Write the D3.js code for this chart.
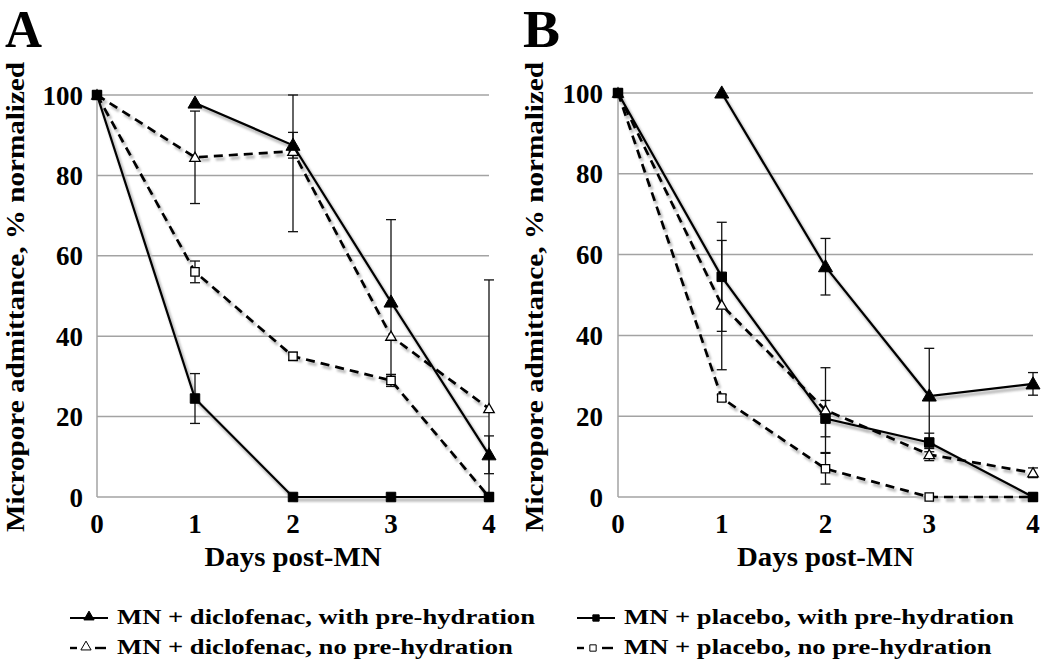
<!DOCTYPE html>
<html><head><meta charset="utf-8">
<script src="https://cdn.jsdelivr.net/npm/d3@7"></script>
<style>
body{margin:0;background:#fff}
text{font-family:"Liberation Serif","Times New Roman",serif;font-weight:bold;fill:#000}
</style>
</head><body>
<svg id="c" width="1050" height="663"></svg>
<script>
// ---------- data ----------
const days = [0, 1, 2, 3, 4];
const yTicks = [0, 20, 40, 60, 80, 100];
const panelLetters = ["A", "B"];
const xTitle = "Days post-MN";
const yTitle = "Micropore admittance, % normalized";
const seriesNames = [
  "MN + diclofenac, with pre-hydration",
  "MN + diclofenac, no pre-hydration",
  "MN + placebo, with pre-hydration",
  "MN + placebo, no pre-hydration"
];
// Panel A
const aDicloWith     = [null, 98, 87.5, 48.5, 10.5];
const aDicloWithErr  = [0, 0, 3.2, 20.5, 4.7];
const aDicloNo       = [100, 84.5, 86, 40, 22];
const aDicloNoErr    = [0, 11.5, 20, 0, 32];
const aPlaceboWith   = [100, 24.5, 0, 0, 0];
const aPlaceboWithErr= [0, 6.2, 0, 0, 0];
const aPlaceboNo     = [100, 56, 35, 29, 0];
const aPlaceboNoErr  = [0, 2.7, 1, 1.5, 0];
// Panel B
const bDicloWith     = [null, 100, 57, 25, 28];
const bDicloWithErr  = [0, 0, 7, 11.8, 2.8];
const bDicloNo       = [100, 47.5, 21.5, 10.5, 6];
const bDicloNoErr    = [0, 16, 10.5, 1.5, 1.2];
const bPlaceboWith   = [100, 54.5, 19.4, 13.5, 0];
const bPlaceboWithErr= [0, 13.5, 4.5, 2.3, 0];
const bPlaceboNo     = [100, 24.5, 7, 0, 0];
const bPlaceboNoErr  = [0, 0.8, 3.8, 0, 0];

// ---------- styles per series ----------
const styles = [
  {dash: null,  marker: "tri", fill: "#000", size: 85},
  {dash: "9,6", marker: "tri", fill: "#fff", size: 48},
  {dash: null,  marker: "sq",  fill: "#000", size: 90},
  {dash: "9,6", marker: "sq",  fill: "#fff", size: 70}
];
const markerOrder = [3, 1, 0, 2];

const panels = [
  {letter: panelLetters[0], x0: 97, x1: 489, y0: 497, y1: 95, letterX: 5, titleX: 24, tickRight: 83,
   series: [[aDicloWith, aDicloWithErr], [aDicloNo, aDicloNoErr], [aPlaceboWith, aPlaceboWithErr], [aPlaceboNo, aPlaceboNoErr]]},
  {letter: panelLetters[1], x0: 618, x1: 1033, y0: 497, y1: 93, letterX: 523, titleX: 543, tickRight: 603,
   series: [[bDicloWith, bDicloWithErr], [bDicloNo, bDicloNoErr], [bPlaceboWith, bPlaceboWithErr], [bPlaceboNo, bPlaceboNoErr]]}
];

const svg = d3.select("#c");
const defs = svg.append("defs");
defs.append("filter").attr("id", "blur").append("feGaussianBlur").attr("stdDeviation", 0.9);

function sym(type, size) {
  return d3.symbol().type(type === "tri" ? d3.symbolTriangle : d3.symbolSquare).size(size)();
}

panels.forEach(p => {
  const x = d3.scaleLinear().domain([0, 4]).range([p.x0, p.x1]);
  const y = d3.scaleLinear().domain([0, 100]).range([p.y0, p.y1]);
  const g = svg.append("g");

  // gridlines
  g.selectAll(".grid").data(yTicks).join("line")
    .attr("x1", p.x0).attr("x2", p.x1)
    .attr("y1", d => y(d)).attr("y2", d => y(d))
    .attr("stroke", "#a3a3a3").attr("stroke-width", 1.5);
  g.append("line").attr("x1", p.x0).attr("x2", p.x0).attr("y1", y(0)).attr("y2", y(100))
    .attr("stroke", "#a3a3a3").attr("stroke-width", 1.5);

  // y tick labels
  g.selectAll(".yt").data(yTicks).join("text")
    .attr("x", p.tickRight).attr("y", d => y(d) + 9.5)
    .attr("text-anchor", "end").attr("font-size", 27).text(d => d);
  // x tick labels
  g.selectAll(".xt").data(days).join("text")
    .attr("x", d => x(d)).attr("y", 533)
    .attr("text-anchor", "middle").attr("font-size", 27).text(d => d);
  // x title
  g.append("text").attr("x", (p.x0 + p.x1) / 2).attr("y", 566)
    .attr("text-anchor", "middle").attr("font-size", 28)
    .attr("textLength", 177).attr("lengthAdjust", "spacingAndGlyphs").text(xTitle);
  // y title
  g.append("text").attr("transform", `translate(${p.titleX},297) rotate(-90)`)
    .attr("text-anchor", "middle").attr("font-size", 26)
    .attr("textLength", 470).attr("lengthAdjust", "spacingAndGlyphs").text(yTitle);
  // panel letter
  g.append("text").attr("x", p.letterX).attr("y", 47).attr("font-size", 52)
    .attr("textLength", 37).attr("lengthAdjust", "spacingAndGlyphs").text(p.letter);

  const line = d3.line().defined(d => d.v != null).x(d => x(d.d)).y(d => y(d.v));

  const data = p.series.map(([vals, errs], i) => ({
    st: styles[i],
    pts: days.map((d, j) => ({d, v: vals[j], e: errs[j]}))
  }));

  // shadows
  data.forEach(s => {
    g.append("path").attr("d", line(s.pts)).attr("fill", "none")
      .attr("stroke", "#bdbdbd").attr("stroke-width", 3.4)
      .attr("stroke-dasharray", s.st.dash).attr("transform", "translate(2,3)")
      .attr("filter", "url(#blur)");
  });
  // lines
  data.forEach(s => {
    g.append("path").attr("d", line(s.pts)).attr("fill", "none")
      .attr("stroke", "#000").attr("stroke-width", s.st.dash ? 2.7 : 2.2)
      .attr("stroke-dasharray", s.st.dash);
  });
  // error bars
  data.forEach(s => {
    s.pts.filter(d => d.v != null && d.e > 0).forEach(d => {
      const lo = Math.max(0, d.v - d.e), hi = Math.min(100, d.v + d.e);
      const eg = g.append("g").attr("stroke", "#111").attr("stroke-width", 1.3);
      eg.append("line").attr("x1", x(d.d)).attr("x2", x(d.d)).attr("y1", y(lo)).attr("y2", y(hi));
      [lo, hi].forEach(v => {
        if (v > 0) eg.append("line").attr("x1", x(d.d) - 5).attr("x2", x(d.d) + 5).attr("y1", y(v)).attr("y2", y(v));
      });
    });
  });
  // markers (open ones first, filled on top)
  markerOrder.forEach(i => {
    const s = data[i];
    g.selectAll(null).data(s.pts.filter(d => d.v != null)).join("path")
      .attr("d", sym(s.st.marker, s.st.size))
      .attr("transform", d => `translate(${x(d.d)},${y(d.v) + (s.st.marker === "tri" ? 1 : 0)})`)
      .attr("fill", s.st.fill).attr("stroke", "#000").attr("stroke-width", s.st.fill === "#fff" ? 1.3 : 1);
  });
});

// ---------- legend ----------
const legendItems = [
  {name: seriesNames[0], st: styles[0], x: 70, y: 618},
  {name: seriesNames[1], st: styles[1], x: 70, y: 648},
  {name: seriesNames[2], st: styles[2], x: 577, y: 618},
  {name: seriesNames[3], st: styles[3], x: 577, y: 648}
];
const leg = svg.append("g");
legendItems.forEach(it => {
  const lg = leg.append("g").attr("transform", `translate(${it.x},${it.y})`);
  if (it.st.dash) {
    lg.append("line").attr("x1", 0).attr("x2", 7).attr("y1", 0).attr("y2", 0).attr("stroke", "#000").attr("stroke-width", 2.4);
    lg.append("line").attr("x1", 25).attr("x2", 36).attr("y1", 0).attr("y2", 0).attr("stroke", "#000").attr("stroke-width", 2.4);
  } else {
    lg.append("line").attr("x1", 0).attr("x2", 38).attr("y1", 0).attr("y2", 0).attr("stroke", "#000").attr("stroke-width", 2.2);
  }
  lg.append("path").attr("d", sym(it.st.marker, it.st.marker === "tri" ? 45 : 40))
    .attr("transform", `translate(${it.st.dash ? 16 : 19},${it.st.marker === "tri" ? -1 : 0})`)
    .attr("fill", it.st.fill).attr("stroke", "#000").attr("stroke-width", 1);
  lg.append("text").attr("x", 47).attr("y", 6).attr("font-size", 20.5)
    .attr("transform", "translate(47,0) scale(1.3,1) translate(-47,0)")
    .text(it.name);
});
</script>
</body></html>
